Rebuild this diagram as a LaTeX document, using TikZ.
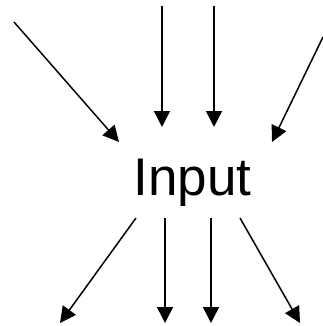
\documentclass[tikz,border=0pt]{standalone}
\usepackage{fontspec}
\setmainfont{Liberation Sans}
\usetikzlibrary{arrows.meta}

\tikzset{
    flow/.style={-{Triangle[length=16pt,width=16pt]},line width=1.5pt},
    label text/.style={font=\fontsize{53}{60}\selectfont,inner sep=0pt,anchor=base}
}

\begin{document}
\begin{tikzpicture}[x=1pt,y=-1pt]
        \useasboundingbox (0,0) rectangle (323,326);

        \node[label text] (input) at (192.6,195) {Input};

        % arrows coming in
        \coordinate (inA) at (14,22);    \coordinate (tipA) at (119,142);
        \coordinate (inB) at (162,6);    \coordinate (tipB) at (162,127);
        \coordinate (inC) at (214,6);    \coordinate (tipC) at (214,127);
        \coordinate (inD) at (323,37);   \coordinate (tipD) at (272,142);

        \draw[flow] (inA) -- (tipA);
        \draw[flow] (inB) -- (tipB);
        \draw[flow] (inC) -- (tipC);
        \draw[flow] (inD) -- (tipD);

        % arrows going out
        \coordinate (outA) at (136,218); \coordinate (endA) at (60,323);
        \coordinate (outB) at (165,218); \coordinate (endB) at (165,323);
        \coordinate (outC) at (211,218); \coordinate (endC) at (211,323);
        \coordinate (outD) at (240,218); \coordinate (endD) at (300,323);

        \draw[flow] (outA) -- (endA);
        \draw[flow] (outB) -- (endB);
        \draw[flow] (outC) -- (endC);
        \draw[flow] (outD) -- (endD);

    \end{tikzpicture}
\end{document}
